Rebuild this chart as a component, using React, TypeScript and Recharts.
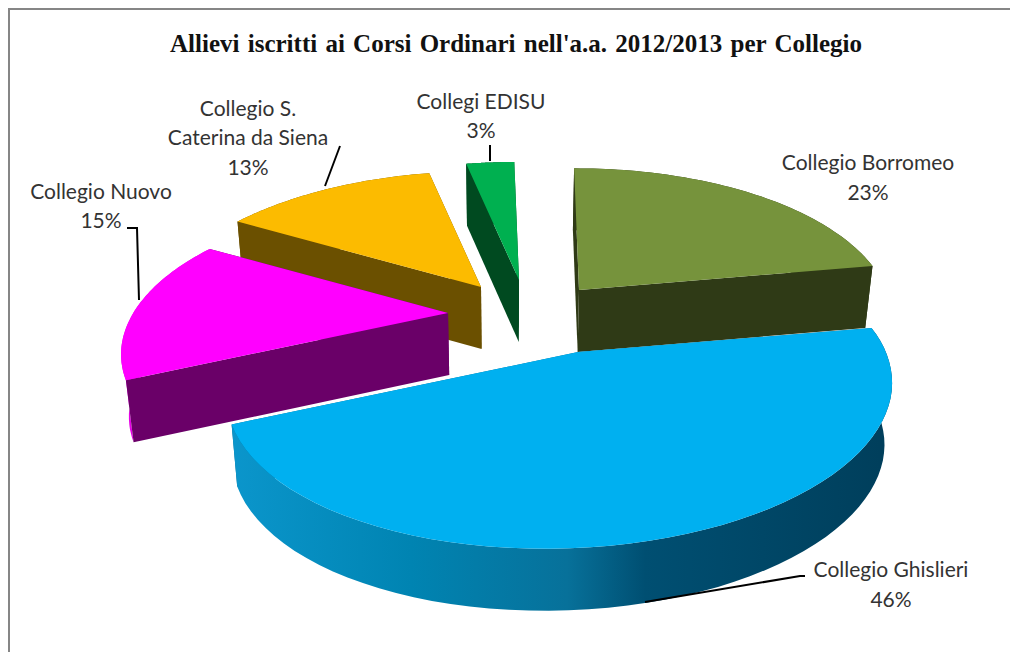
import { PieChart, Pie } from "recharts";

const colleges = ["Collegio Borromeo", "Collegio Ghislieri", "Collegio Nuovo", "Collegio S. Caterina da Siena", "Collegi EDISU"];
const shares = [23, 46, 15, 13, 3];
const topColors = ["#76933c", "#00b0f0", "#ff00ff", "#fcbb00", "#00b050"];
const wallColors = ["#2f3a16", "#006e96", "#6a0068", "#6b5000", "#004a20"];
const rimColors = ["#2f3a16", "url(#rimBlue)", "#e600e6", "#6b5000", "#004a20"];

// how far each slice is pulled out of the pie, and its perspective shrink
const explodeX = [1, 0, -130, -97, -59];
const explodeY = [-62, 0, -39, -65, -72];
const shrink = [1, 1, 0.93, 0.95, 0.97];

// drawn in two passes so that the near slices overlap the far ones
const farSlices = ["Collegio Borromeo", "Collegio S. Caterina da Siena", "Collegi EDISU"];
const nearSlices = ["Collegio Ghislieri", "Collegio Nuovo"];

const labelLines: Record<string, { lines: string[]; x: number; y: number[]; leader?: string }> = {
  "Collegio Borromeo": { lines: ["Collegio Borromeo", "%"], x: 868, y: [170, 200] },
  "Collegio Ghislieri": { lines: ["Collegio Ghislieri", "%"], x: 891, y: [577, 607], leader: "645,602 800,576 805,576" },
  "Collegio Nuovo": { lines: ["Collegio Nuovo", "%"], x: 101, y: [199, 228], leader: "127,228 137,228 139,300" },
  "Collegio S. Caterina da Siena": { lines: ["Collegio S.", "Caterina da Siena", "%"], x: 248, y: [116, 145, 175], leader: "340,146 325,186" },
  "Collegi EDISU": { lines: ["Collegi EDISU", "%"], x: 481, y: [109, 138], leader: "490,145 490,161" },
};

const rows = colleges.map((name, i) => ({ name, value: shares[i] }));

const PIE_CX = 578;
const PIE_CY = 352;
const DEPTH = 62;
const RIM_STEPS = 60;

// projects a point of the pie's plane (unit circle, y up) on the screen
function project(cosA: number, sinA: number, r: number) {
  const w = 1 + 0.059 * cosA + 0.233 * sinA;
  return {
    x: (r * (2.15 * cosA - 0.04 * sinA)) / w,
    y: (r * (-0.05 * cosA - 1 * sinA)) / w,
  };
}

function Slice3D(props: any) {
  const { cx, cy, outerRadius, startAngle, endAngle, index } = props;
  const ox = cx + explodeX[index];
  const oy = cy + explodeY[index];
  const k = shrink[index];

  const at = (deg: number) => {
    const rad = (deg * Math.PI) / 180;
    const p = project(Math.cos(rad), Math.sin(rad), outerRadius);
    return { x: ox + p.x * k, y: oy + p.y * k };
  };
  // the extruded side converges slightly towards the middle of the picture
  const down = (p: { x: number; y: number }) => ({ x: p.x + (510 - p.x) * 0.02, y: p.y + DEPTH });
  const str = (pts: { x: number; y: number }[]) => pts.map((p) => `${p.x.toFixed(1)},${p.y.toFixed(1)}`).join(" ");

  const arc: { x: number; y: number }[] = [];
  for (let s = 0; s <= RIM_STEPS; s++) arc.push(at(startAngle + ((endAngle - startAngle) * s) / RIM_STEPS));

  const apex = { x: ox, y: oy };
  const mid = arc[Math.floor(RIM_STEPS / 2)];
  const wallFor = (end: { x: number; y: number }) => {
    const t = (mid.x - apex.x) / (end.x - apex.x || 1);
    const lineY = apex.y + (end.y - apex.y) * t;
    return { pts: [apex, end, down(end), down(apex)], front: mid.y < lineY };
  };
  const walls = [wallFor(arc[0]), wallFor(arc[RIM_STEPS])];
  const rim = [...arc, ...arc.map(down).reverse()];

  return (
    <g>
      <defs>
        <linearGradient id="rimBlue" gradientUnits="userSpaceOnUse" x1={228} y1={0} x2={880} y2={0}>
          <stop offset="0" stopColor="#0b96cc" />
          <stop offset="0.28" stopColor="#0084b2" />
          <stop offset="0.52" stopColor="#07719a" />
          <stop offset="0.64" stopColor="#004f72" />
          <stop offset="1" stopColor="#003f5c" />
        </linearGradient>
      </defs>
      {walls.filter((w) => !w.front).map((w, i) => (
        <polygon key={i} points={str(w.pts)} fill={wallColors[index]} />
      ))}
      <polygon points={str(rim)} fill={rimColors[index]} />
      {walls.filter((w) => w.front).map((w, i) => (
        <polygon key={i} points={str(w.pts)} fill={wallColors[index]} />
      ))}
      <polygon points={str([apex, ...arc])} fill={topColors[index]} />
    </g>
  );
}

function onlySlices(names: string[]) {
  return (props: any) => (names.includes(props.name) ? <Slice3D {...props} /> : <g />);
}

function SliceLabel(props: any) {
  const spec = labelLines[props.name];
  const pct = `${Math.round(props.percent * 100)}%`;
  return (
    <g>
      {spec.leader && <polyline points={spec.leader} fill="none" stroke="#000" strokeWidth={2} />}
      {spec.lines.map((line, i) => (
        <text key={i} x={spec.x} y={spec.y[i]} textAnchor="middle" fontFamily="Lato" fontSize={21} fill="#333">
          {line === "%" ? pct : line}
        </text>
      ))}
    </g>
  );
}

export default function App() {
  return (
    <div style={{ position: "absolute", left: 0, top: 0, width: 1010, height: 652, background: "#fff" }}>
      <div style={{ position: "absolute", left: 8, top: 8, right: 0, bottom: 0, borderLeft: "2px solid #868686", borderTop: "2px solid #868686" }} />
      <div style={{ position: "absolute", left: 0, top: 0 }}>
        <PieChart width={1010} height={652} margin={{ top: 0, right: 0, bottom: 0, left: 0 }}>
          <Pie
            data={rows}
            dataKey="value"
            nameKey="name"
            cx={PIE_CX}
            cy={PIE_CY}
            outerRadius={150}
            startAngle={90}
            endAngle={-270}
            stroke="none"
            shape={onlySlices(farSlices)}
            isAnimationActive={false}
          />
          <Pie
            data={rows}
            dataKey="value"
            nameKey="name"
            cx={PIE_CX}
            cy={PIE_CY}
            outerRadius={150}
            startAngle={90}
            endAngle={-270}
            stroke="none"
            shape={onlySlices(nearSlices)}
            label={SliceLabel}
            labelLine={false}
            isAnimationActive={false}
          />
          <text x={516} y={52} textAnchor="middle" fontFamily="Liberation Serif" fontWeight="bold" fontSize={25} fill="#111" wordSpacing={2}>
            Allievi iscritti ai Corsi Ordinari nell'a.a. 2012/2013 per Collegio
          </text>
        </PieChart>
      </div>
    </div>
  );
}
